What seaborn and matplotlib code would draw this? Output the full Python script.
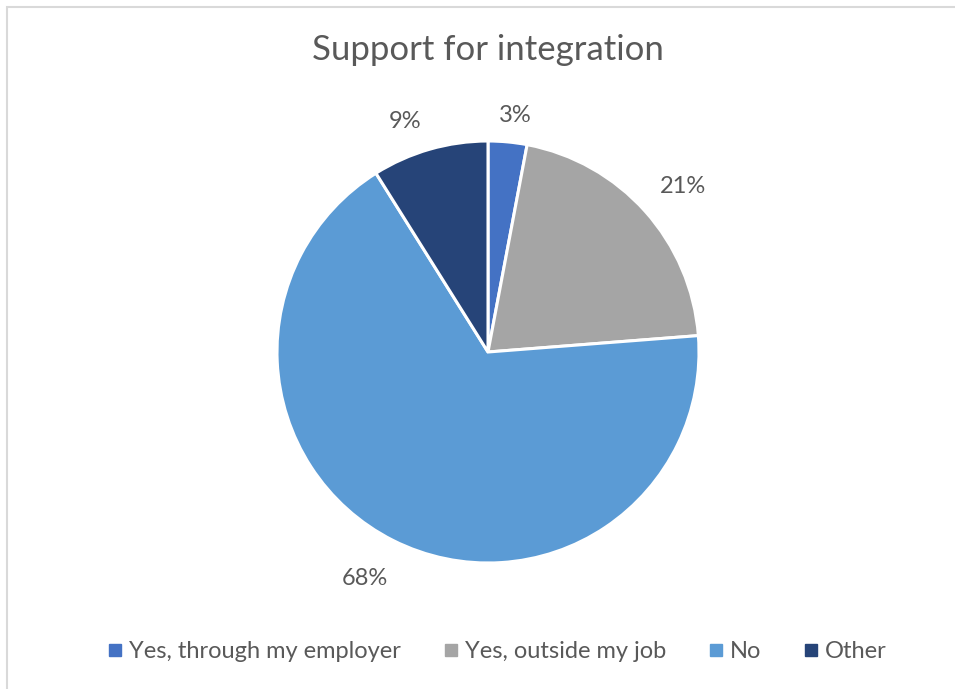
import matplotlib
matplotlib.use("Agg")
import numpy as np
import matplotlib.pyplot as plt
import seaborn as sns
from matplotlib.patches import Rectangle
from matplotlib.lines import Line2D

sns.set_theme(style="white")
plt.rcParams["font.family"] = ["Lato", "DejaVu Sans"]

# Survey answers and their shares (percent)
categories = ["Yes, through my employer", "Yes, outside my job", "No", "Other"]
shares = [3, 21, 68, 9]
colors = ["#4472C4", "#A5A5A5", "#5B9BD5", "#264478"]
title = "Support for integration"

# Data label placement: radial offset (pie radii) and angular nudge (degrees, clockwise)
label_offsets = [1.13, 1.21, 1.22, 1.16]
label_nudges = [1.2, 1.6, 1.8, -3.8]

text_color = "#595959"

fig = plt.figure(figsize=(9.55, 6.89), dpi=100)
fig.patch.set_facecolor("white")

# Chart-area border (top and left edges fall inside the canvas)
fig.add_artist(Rectangle((7 / 955, -0.05), 1.1, (689 - 7) / 689 + 0.05,
                         transform=fig.transFigure, fill=False,
                         edgecolor="#D9D9D9", linewidth=1.5))

ax = fig.add_axes([(488 - 211) / 955, (689 - 563) / 689, 422 / 955, 422 / 689])
wedges, texts, autotexts = ax.pie(
    shares,
    colors=colors,
    startangle=90,
    counterclock=False,
    autopct=lambda p: f"{p * sum(shares) / 100:.0f}%",
    pctdistance=1.2,
    wedgeprops=dict(edgecolor="white", linewidth=2.2),
    textprops=dict(color=text_color, fontsize=17),
)
for w, t, r, d in zip(wedges, autotexts, label_offsets, label_nudges):
    mid = np.deg2rad((w.theta1 + w.theta2) / 2 - d)
    t.set_position((r * np.cos(mid), r * np.sin(mid)))
ax.set_xlim(-1, 1)
ax.set_ylim(-1, 1)
ax.set_aspect("equal")

fig.text(488 / 955, 1 - 50 / 689, title, ha="center", va="center",
         fontsize=25, color=text_color)

handles = [Line2D([0], [0], marker="s", linestyle="none", markersize=8,
                  markerfacecolor=c, markeredgecolor=c) for c in colors]
fig.legend(handles, categories, loc="center", bbox_to_anchor=(495 / 955, 1 - 652 / 689),
           ncol=4, frameon=False, fontsize=17, labelcolor=text_color,
           handletextpad=0.1, columnspacing=1.6, handlelength=1.0)

fig.savefig("out.png", dpi=100, facecolor="white")
